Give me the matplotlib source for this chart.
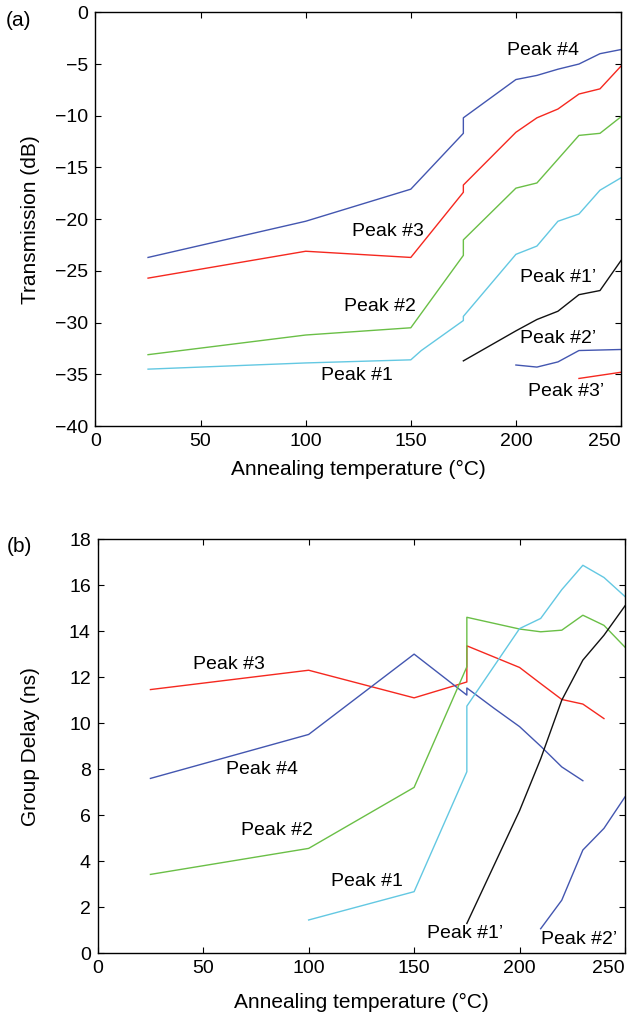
import numpy as np
import matplotlib
matplotlib.use("Agg")
import matplotlib.pyplot as plt

plt.rcParams['font.family'] = ['Liberation Sans', 'DejaVu Sans']

# (a) transmission in dB vs annealing temperature
t_main = [25, 100, 150, 175, 175, 200, 210, 220, 230, 240, 250]
tr_p4 = [-23.7, -20.2, -17.1, -11.7, -10.2, -6.5, -6.1, -5.5, -5.0, -4.0, -3.6]
tr_p3 = [-25.7, -23.1, -23.7, -17.4, -16.7, -11.6, -10.2, -9.35, -7.9, -7.4, -5.2]
tr_p2 = [-33.1, -31.2, -30.5, -23.5, -22.0, -17.0, -16.5, -14.2, -11.9, -11.7, -10.1]
t_p1 = [25, 100, 150, 155, 175, 175, 200, 210, 220, 230, 240, 250]
tr_p1 = [-34.5, -33.9, -33.6, -32.7, -29.8, -29.4, -23.4, -22.6, -20.2, -19.5, -17.2, -16.0]
t_p1b = [175, 200, 210, 220, 230, 240, 250]
tr_p1b = [-33.7, -30.8, -29.7, -28.9, -27.3, -26.9, -24.0]
t_p2b = [200, 210, 220, 230, 250]
tr_p2b = [-34.1, -34.3, -33.8, -32.7, -32.6]
t_p3b = [230, 250]
tr_p3b = [-35.4, -34.8]

# (b) group delay in ns
t_gd_p3 = [25, 100, 150, 175, 175, 200, 210, 220, 230, 240]
gd_p3 = [11.46, 12.30, 11.10, 11.79, 13.36, 12.42, 11.72, 11.03, 10.83, 10.2]
t_gd_p4 = [25, 100, 150, 175, 175, 188, 200, 210, 220, 230]
gd_p4 = [7.60, 9.51, 13.0, 11.22, 11.53, 10.64, 9.85, 9.0, 8.1, 7.5]
t_gd_p2 = [25, 100, 150, 175, 175, 200, 210, 220, 230, 240, 250]
gd_p2 = [3.43, 4.56, 7.21, 12.45, 14.6, 14.09, 13.97, 14.04, 14.69, 14.25, 13.3]
t_gd_p1 = [100, 150, 175, 175, 200, 210, 220, 230, 240, 250]
gd_p1 = [1.45, 2.68, 7.89, 10.74, 14.11, 14.55, 15.8, 16.86, 16.33, 15.5]
t_gd_p1b = [175, 200, 210, 220, 230, 240, 250]
gd_p1b = [1.3, 6.2, 8.45, 11.0, 12.74, 13.82, 15.1]
t_gd_p2b = [210, 220, 230, 240, 250]
gd_p2b = [1.07, 2.31, 4.49, 5.43, 6.8]

BLUE = '#4356b0'
RED = '#f5281f'
GREEN = '#6abf46'
CYAN = '#63c8e2'
BLACK = '#111111'

# label name, x, y
labels_a = [("Peak #4", 213, -3.7), ("Peak #3", 139, -21.2), ("Peak #2", 135.5, -28.4),
            ("Peak #1", 124.6, -35.1), ("Peak #1\u2019", 220, -25.6),
            ("Peak #2\u2019", 220, -31.5), ("Peak #3\u2019", 224, -36.7)]
labels_b = [("Peak #3", 62.4, 12.56), ("Peak #4", 77.7, 7.99), ("Peak #2", 85.2, 5.35),
            ("Peak #1", 127.5, 3.11), ("Peak #1\u2019", 174.3, 0.87),
            ("Peak #2\u2019", 228, 0.61)]

fig = plt.figure(figsize=(6.32, 10.18), dpi=100)
ax1 = fig.add_axes([0.1511, 0.5815, 0.8315, 0.4064])
ax2 = fig.add_axes([0.1546, 0.0635, 0.8344, 0.4070])

lw = 1.0
ax1.plot(t_main, tr_p4, color=BLUE, lw=lw)
ax1.plot(t_main, tr_p3, color=RED, lw=lw)
ax1.plot(t_main, tr_p2, color=GREEN, lw=lw)
ax1.plot(t_p1, tr_p1, color=CYAN, lw=lw)
ax1.plot(t_p1b, tr_p1b, color=BLACK, lw=lw)
ax1.plot(t_p2b, tr_p2b, color=BLUE, lw=lw)
ax1.plot(t_p3b, tr_p3b, color=RED, lw=lw)

ax2.plot(t_gd_p3, gd_p3, color=RED, lw=lw)
ax2.plot(t_gd_p4, gd_p4, color=BLUE, lw=lw)
ax2.plot(t_gd_p2, gd_p2, color=GREEN, lw=lw)
ax2.plot(t_gd_p1, gd_p1, color=CYAN, lw=lw)
ax2.plot(t_gd_p1b, gd_p1b, color=BLACK, lw=lw)
ax2.plot(t_gd_p2b, gd_p2b, color=BLUE, lw=lw)

for name, x, y in labels_a:
    ax1.text(x, y, name, fontsize=14, ha='center', va='center')
for name, x, y in labels_b:
    ax2.text(x, y, name, fontsize=14, ha='center', va='center')

ax1.set_xlim(0, 250)
ax1.set_ylim(-40, 0)
ax1.set_xticks(np.arange(0, 251, 50))
ax1.set_yticks(np.arange(-40, 1, 5))
ax1.set_ylabel('Transmission (dB)', fontsize=15, labelpad=11)
ax1.set_xlabel('Annealing temperature (\u00b0C)', fontsize=15, labelpad=7)

ax2.set_xlim(0, 250)
ax2.set_ylim(0, 18)
ax2.set_xticks(np.arange(0, 251, 50))
ax2.set_yticks(np.arange(0, 19, 2))
ax2.set_ylabel('Group Delay (ns)', fontsize=15, labelpad=21)
ax2.set_xlabel('Annealing temperature (\u00b0C)', fontsize=15, labelpad=11)

for ax in (ax1, ax2):
    ax.tick_params(direction='in', top=True, right=True, length=4, width=0.8,
                   labelsize=14, pad=5)
    for s in ax.spines.values():
        s.set_linewidth(1.0)
    # keep the last x tick label inside the figure
    ax.get_xticklabels()[-1].set_horizontalalignment('right')

fig.text(0.030, 1 - 20 / 1018, '(a)', fontsize=15, ha='center', va='center')
fig.text(0.030, 1 - 547 / 1018, '(b)', fontsize=15, ha='center', va='center')

fig.savefig('out.png', dpi=100)
